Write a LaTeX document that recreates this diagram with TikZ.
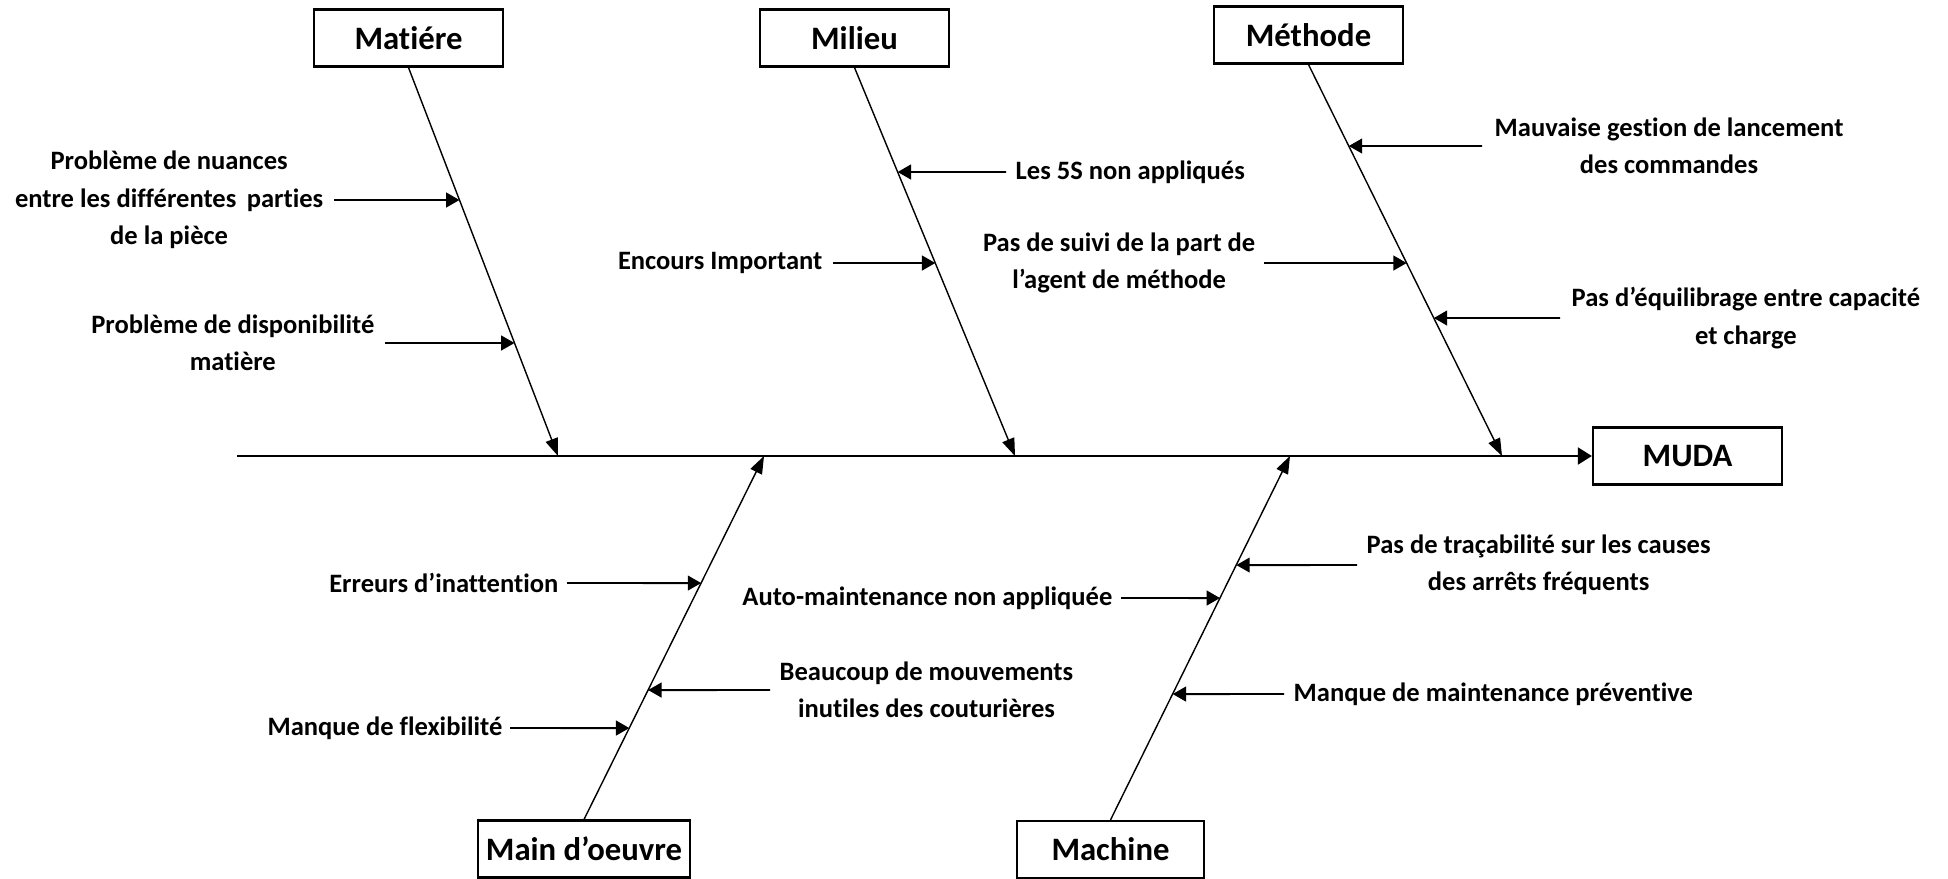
\documentclass[tikz,border=0pt]{standalone}
\usepackage{fontspec}
\setmainfont{Carlito}[Ligatures=NoCommon]
\usetikzlibrary{arrows.meta}
\begin{document}
\begin{tikzpicture}[x=0.01cm,y=-0.01cm,
  box/.style={draw, line width=0.6pt, minimum width=1.89cm, minimum height=0.57cm,
    inner sep=0pt, font=\fontsize{9.3}{11}\selectfont\bfseries},
  lbl/.style={align=center, inner sep=0pt, font=\fontsize{7.55}{10.6}\selectfont\bfseries},
  bone/.style={line width=0.4pt, -{Triangle[length=5pt,width=3.6pt]}},
  cause/.style={line width=0.55pt, -{Triangle[length=3.8pt,width=4.2pt]}},
  spine/.style={line width=0.75pt, -{Triangle[length=4pt,width=4.8pt]}}]
\useasboundingbox (0,0) rectangle (1948,878);

% category boxes and effect
\node[box] (matiere) at (408.5,38) {Matiére};
\node[box] (milieu)  at (854.5,38) {Milieu};
\node[box] (methode) at (1308.5,35) {Méthode};
\node[box] (muda)    at (1687.5,456) {MUDA};
\node[box, minimum width=2.12cm] (main) at (584,849) {Main d’oeuvre};
\node[box, minimum width=1.87cm] (machine) at (1110.5,849.5) {Machine};

% spine and the points where the bones join it
\coordinate (tail) at (237,456);
\coordinate (jMat) at (558,456);
\coordinate (jMil) at (1015,456);
\coordinate (jMet) at (1502,456);
\coordinate (jMain) at (764,456);
\coordinate (jMac) at (1290,456);

\draw[spine] (tail) -- (muda.west);
\draw[bone] (matiere.south) -- (jMat);
\draw[bone] (milieu.south) -- (jMil);
\draw[bone] (methode.south) -- (jMet);
\draw[bone] (main.north) -- (jMain);
\draw[bone] (machine.north) -- (jMac);

% causes
\node[lbl, anchor=east] (c1) at (324,200) {Problème de nuances\\entre les différentes\, parties\\de la pièce};
\node[lbl, anchor=east] (c2) at (375,343) {Problème de disponibilité\\matière};
\node[lbl, anchor=west] (c3) at (1015,172) {Les 5S non appliqués};
\node[lbl, anchor=east] (c4) at (823,263) {Encours Important};
\node[lbl, anchor=east] (c5) at (1256,263) {Pas de suivi de la part de\\l’agent de méthode};
\node[lbl, anchor=west] (c6) at (1494,146) {Mauvaise gestion de lancement\\des commandes};
\node[lbl, anchor=west] (c7) at (1571,318) {Pas d’équilibrage entre capacité\\et charge};
\node[lbl, anchor=east] (c8) at (559,583) {Erreurs d’inattention};
\node[lbl, anchor=west] (c9) at (779,690) {Beaucoup de mouvements\\inutiles des couturières};
\node[lbl, anchor=east] (c10) at (503,728) {Manque de flexibilité};
\node[lbl, anchor=east] (c11) at (1113,598) {Auto-maintenance non appliquée};
\node[lbl, anchor=west] (c12) at (1366,565) {Pas de traçabilité sur les causes\\des arrêts fréquents};
\node[lbl, anchor=west] (c13) at (1293,694) {Manque de maintenance préventive};

\draw[cause] ([xshift=0.1cm]c1.east) -- (intersection of matiere.south--jMat and c1.east--c1.west);
\draw[cause] ([xshift=0.1cm]c2.east) -- (intersection of matiere.south--jMat and c2.east--c2.west);
\draw[cause] ([xshift=-0.09cm]c3.west) -- (intersection of milieu.south--jMil and c3.east--c3.west);
\draw[cause] ([xshift=0.1cm]c4.east) -- (intersection of milieu.south--jMil and c4.east--c4.west);
\draw[cause] ([xshift=0.08cm]c5.east) -- (intersection of methode.south--jMet and c5.east--c5.west);
\draw[cause] ([xshift=-0.12cm]c6.west) -- (intersection of methode.south--jMet and c6.east--c6.west);
\draw[cause] ([xshift=-0.11cm]c7.west) -- (intersection of methode.south--jMet and c7.east--c7.west);
\draw[cause] ([xshift=0.08cm]c8.east) -- (intersection of main.north--jMain and c8.east--c8.west);
\draw[cause] ([xshift=-0.09cm]c9.west) -- (intersection of main.north--jMain and c9.east--c9.west);
\draw[cause] ([xshift=0.07cm]c10.east) -- (intersection of main.north--jMain and c10.east--c10.west);
\draw[cause] ([xshift=0.08cm]c11.east) -- (intersection of machine.north--jMac and c11.east--c11.west);
\draw[cause] ([xshift=-0.09cm]c12.west) -- (intersection of machine.north--jMac and c12.east--c12.west);
\draw[cause] ([xshift=-0.09cm]c13.west) -- (intersection of machine.north--jMac and c13.east--c13.west);
\end{tikzpicture}
\end{document}
